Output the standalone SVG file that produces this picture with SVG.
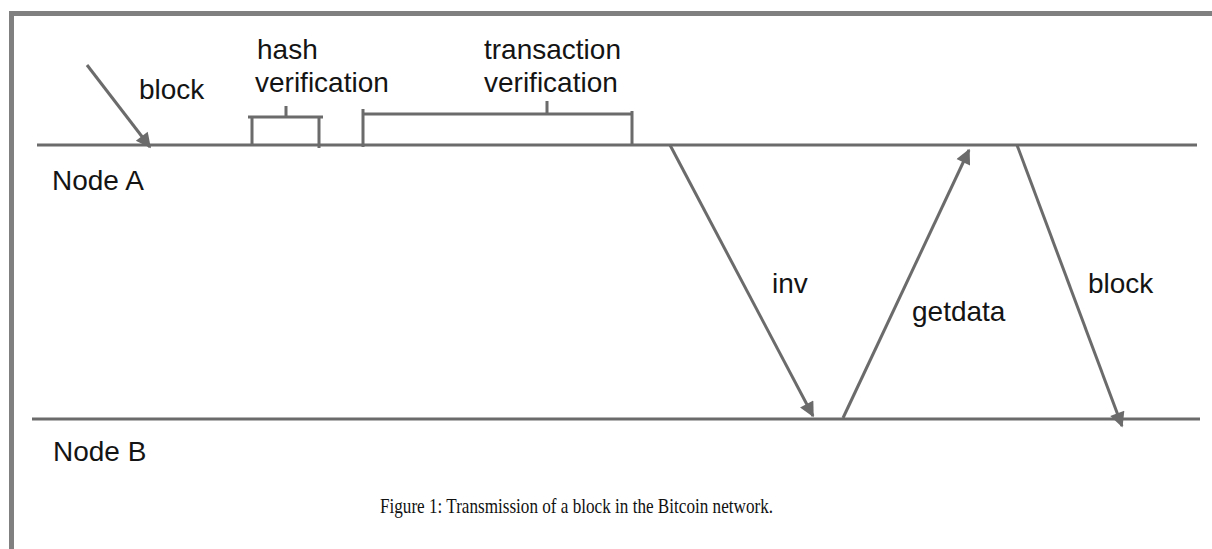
<svg xmlns="http://www.w3.org/2000/svg" width="1212" height="549" viewBox="0 0 1212 549">
<defs>
<style>
.ln{stroke:#6b6b6b;stroke-width:3;fill:none}
.ar{stroke:#6b6b6b;stroke-width:3;fill:none;marker-end:url(#ah)}
.lb{font-family:"Liberation Sans",Arial,sans-serif;font-size:28px;fill:#141414}
.cap{font-family:"Liberation Serif","Times New Roman",serif;font-size:22px;fill:#111}
</style>
<marker id="ah" viewBox="0 0 10 10" refX="9" refY="5" markerUnits="userSpaceOnUse" markerWidth="19" markerHeight="15" orient="auto">
<path d="M0,0 L10,5 L0,10 z" fill="#6b6b6b"/>
</marker>
</defs>
<rect width="1212" height="549" fill="#fff"/>
<g id="frame">
<rect x="9" y="11" width="1203" height="5" fill="#808080"/>
<rect x="9" y="11" width="5" height="538" fill="#808080"/>
</g>
<g id="nodeA">
<line class="ln" x1="37" y1="145" x2="1197" y2="145"/>
<text class="lb" x="52" y="190">Node A</text>
</g>
<g id="nodeB">
<line class="ln" x1="32" y1="419" x2="1200" y2="419"/>
<text class="lb" x="53" y="461">Node B</text>
</g>
<g id="hash">
<path class="ln" d="M252,146 V117 M248,117 H323 M319,117 V148 M286,106 V117"/>
<text class="lb" x="257" y="59">hash</text>
<text class="lb" x="255" y="92">verification</text>
</g>
<g id="tx">
<path class="ln" d="M363,109 V147 M363,114 H632 M632,111 V145 M547,101 V114"/>
<text class="lb" x="484" y="59">transaction</text>
<text class="lb" x="484" y="92">verification</text>
</g>
<g id="connectors">
<line class="ar" x1="87" y1="65" x2="150" y2="147"/>
<line class="ar" x1="670" y1="145" x2="813" y2="416"/>
<line class="ar" x1="843" y1="418" x2="969" y2="150"/>
<line class="ar" x1="1017" y1="145" x2="1122" y2="426"/>
</g>
<g id="labels">
<text class="lb" x="139" y="99">block</text>
<text class="lb" x="772" y="293">inv</text>
<text class="lb" x="912" y="321">getdata</text>
<text class="lb" x="1088" y="293">block</text>
</g>
<text class="cap" x="380" y="513" textLength="393" lengthAdjust="spacingAndGlyphs">Figure 1: Transmission of a block in the Bitcoin network.</text>
</svg>
